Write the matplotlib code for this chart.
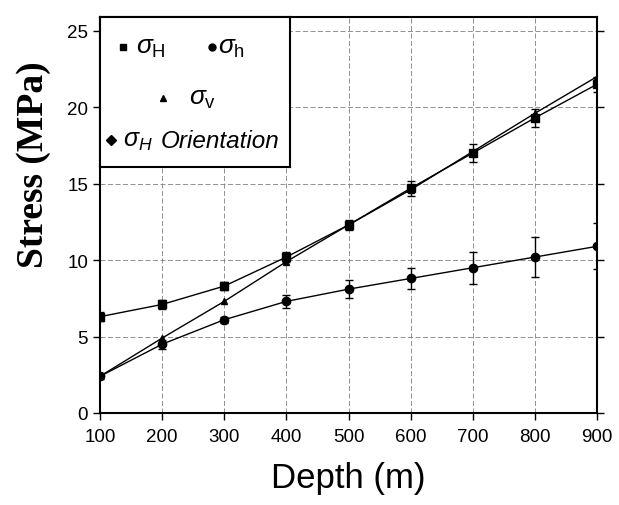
import numpy as np
import matplotlib
matplotlib.use("Agg")
import matplotlib.pyplot as plt

plt.rcParams['font.family'] = ['Liberation Sans', 'DejaVu Sans']
plt.rcParams['mathtext.fontset'] = 'custom'
plt.rcParams['mathtext.rm'] = 'Liberation Sans'
plt.rcParams['mathtext.it'] = 'Liberation Sans:italic'

# data
depth = [100, 200, 300, 400, 500, 600, 700, 800, 900]
sig_H = [6.3, 7.1, 8.3, 10.2, 12.3, 14.7, 17.0, 19.3, 21.5]
sig_H_err = [0.3, 0.3, 0.25, 0.35, 0.35, 0.5, 0.6, 0.6, 0.5]
sig_h = [2.4, 4.5, 6.1, 7.3, 8.1, 8.8, 9.5, 10.2, 10.9]
sig_h_err = [0.2, 0.3, 0.2, 0.4, 0.6, 0.7, 1.05, 1.3, 1.5]
sig_v = [2.4, 4.9, 7.3, 9.9, 12.3, 14.6, 17.1, 19.6, 22.0]

xticks = [100, 200, 300, 400, 500, 600, 700, 800, 900]
yticks = [0, 5, 10, 15, 20, 25]

fig = plt.figure(figsize=(6.19, 5.06), dpi=100)
ax = fig.add_axes([100/619, 1 - 414/506, 497/619, 396/506])

ax.errorbar(depth, sig_H, yerr=sig_H_err, color='black', lw=1, marker='s', ms=6,
            capsize=3, elinewidth=1)
ax.errorbar(depth, sig_h, yerr=sig_h_err, color='black', lw=1, marker='o', ms=6,
            capsize=3, elinewidth=1)
ax.plot(depth, sig_v, color='black', lw=1, marker='^', ms=4)

ax.set_xlim(100, 900)
ax.set_ylim(0, 25.9)
ax.set_xticks(xticks)
ax.set_yticks(yticks)
ax.grid(True, color='gray', ls=(0, (6, 3)), lw=0.6)
ax.tick_params(axis='both', labelsize=13.5, direction='out', length=5, width=1)
ax.tick_params(axis='x', pad=6)
ax.tick_params(axis='y', right=True, which='both')
for s in ax.spines.values():
    s.set_linewidth(1.5)

ax.set_xlabel('Depth (m)', fontsize=25, labelpad=11)
ax.set_ylabel('Stress (MPa)', fontsize=27, fontfamily='Liberation Serif',
              fontweight='bold')
ax.yaxis.set_label_coords(-0.098, 0.63)

# legend box, hand-laid like the original
lg = fig.add_axes([100/619, 1 - 168/506, 190/619, 150/506])
lg.set_xlim(0, 1)
lg.set_ylim(0, 1)
lg.set_xticks([])
lg.set_yticks([])
for s in lg.spines.values():
    s.set_linewidth(1.5)
lg.plot([0.12], [0.80], 's', color='black', ms=5)
lg.text(0.19, 0.80, r'$\sigma_\mathrm{H}$', fontsize=19, va='center')
lg.plot([0.59], [0.80], 'o', color='black', ms=5)
lg.text(0.62, 0.80, r'$\sigma_\mathrm{h}$', fontsize=19, va='center')
lg.plot([0.33], [0.46], '^', color='black', ms=4)
lg.text(0.47, 0.46, r'$\sigma_\mathrm{v}$', fontsize=19, va='center')
lg.plot([0.06], [0.18], 'D', color='black', ms=5)
lg.text(0.12, 0.18, r'$\sigma_H$', fontsize=18, va='center')
lg.text(0.32, 0.18, 'Orientation', fontsize=17.5, style='italic', va='center')

fig.savefig('out.png', dpi=100)
